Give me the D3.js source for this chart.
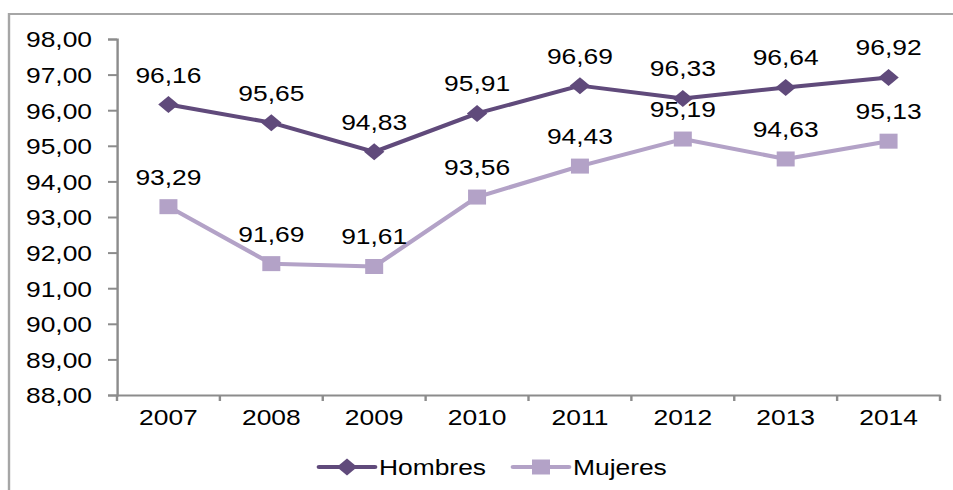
<!DOCTYPE html>
<html>
<head>
<meta charset="utf-8">
<script src="https://cdn.jsdelivr.net/npm/d3@7"></script>
<style>
  html, body { margin: 0; padding: 0; background: #fff; }
  svg { display: block; }
  text { font-family: "Liberation Sans", Arial, sans-serif; fill: #000; }
</style>
</head>
<body>
<div id="chart"></div>
<script>
// data
const years = ["2007", "2008", "2009", "2010", "2011", "2012", "2013", "2014"];
const hombres = [96.16, 95.65, 94.83, 95.91, 96.69, 96.33, 96.64, 96.92];
const mujeres = [93.29, 91.69, 91.61, 93.56, 94.43, 95.19, 94.63, 95.13];
const yTicks = [88, 89, 90, 91, 92, 93, 94, 95, 96, 97, 98];
const seriesNames = ["Hombres", "Mujeres"];

const colDark = "#604a7b", colLight = "#b3a2c7", axisCol = "#8c8c8c";
const fontSize = 22;

// the original picture is stretched sideways, so draw in a narrower space and stretch it
const sx = 1.2;
const W = 953, H = 490, IW = W / sx;
const px = v => v / sx;   // screen x -> inner x

const fmt = d3.formatLocale({ decimal: ",", thousands: ".", grouping: [3], currency: ["", ""] }).format(".2f");

const svg = d3.select("#chart").append("svg")
  .attr("width", W).attr("height", H)
  .attr("viewBox", "0 0 " + IW + " " + H)
  .attr("preserveAspectRatio", "none");

// outer frame (left and top edges visible)
svg.append("path")
  .attr("d", "M" + px(9) + "," + H + "V14H" + IW)
  .attr("fill", "none").attr("stroke", "#a6a6a6").attr("stroke-width", 2);

const plotLeft = px(117), plotRight = px(940), plotTop = 39, plotBottom = 395;

const x = d3.scaleBand().domain(years).range([plotLeft, plotRight]);
const y = d3.scaleLinear().domain([88, 98]).range([plotBottom, plotTop]);
const cx = d => x(d) + x.bandwidth() / 2;

// y axis
const yAxis = svg.append("g")
  .attr("transform", "translate(" + plotLeft + ",0)")
  .call(d3.axisLeft(y).tickValues(yTicks).tickFormat(fmt).tickSize(px(9)).tickPadding(px(16)));
yAxis.selectAll("text").attr("font-size", fontSize).attr("dy", "0.36em");

// x axis
const xAxis = svg.append("g")
  .attr("transform", "translate(0," + plotBottom + ")")
  .call(d3.axisBottom(x).tickSize(0).tickPadding(22));
xAxis.selectAll("text").attr("font-size", fontSize).attr("dy", "0.36em");
// ticks between categories
xAxis.selectAll(".sep")
  .data(years.concat(["end"]))
  .enter().append("line")
  .attr("class", "sep")
  .attr("x1", (d, i) => plotLeft + i * x.bandwidth())
  .attr("x2", (d, i) => plotLeft + i * x.bandwidth())
  .attr("y1", 0).attr("y2", 6)
  .attr("stroke", axisCol).attr("stroke-width", 2);

svg.selectAll(".domain").attr("stroke", axisCol).attr("stroke-width", 2);
svg.selectAll(".tick line").attr("stroke", axisCol).attr("stroke-width", 2);

const line = d3.line()
  .x((d, i) => cx(years[i]))
  .y(d => y(d));

const diamond = s => "M0," + (-s / 2) + "L" + (s / 2) + ",0L0," + (s / 2) + "L" + (-s / 2) + ",0Z";
const square = s => "M" + (-s / 2) + "," + (-s / 2) + "h" + s + "v" + s + "h" + (-s) + "Z";

function drawSeries(vals, color, shape) {
  const g = svg.append("g");
  g.append("path")
    .attr("d", line(vals))
    .attr("fill", "none").attr("stroke", color).attr("stroke-width", 4)
    .attr("stroke-linejoin", "round");
  g.selectAll("path.m")
    .data(vals).enter().append("path")
    .attr("class", "m")
    .attr("transform", (d, i) => "translate(" + cx(years[i]) + "," + y(d) + ")")
    .attr("d", shape)
    .attr("fill", color);
  g.selectAll("text")
    .data(vals).enter().append("text")
    .attr("x", (d, i) => cx(years[i]))
    .attr("y", d => y(d) - 22)
    .attr("text-anchor", "middle")
    .attr("font-size", fontSize)
    .text(d => fmt(d));
}

drawSeries(mujeres, colLight, square(15));
drawSeries(hombres, colDark, diamond(17));

// legend
const legend = [
  { name: seriesNames[0], color: colDark, shape: diamond(17), x0: 319 },
  { name: seriesNames[1], color: colLight, shape: square(15), x0: 513 }
];
const lg = svg.selectAll(".leg").data(legend).enter().append("g").attr("class", "leg");
lg.append("line")
  .attr("x1", d => px(d.x0)).attr("x2", d => px(d.x0 + 56))
  .attr("y1", 467).attr("y2", 467)
  .attr("stroke", d => d.color).attr("stroke-width", 4).attr("stroke-linecap", "round");
lg.append("path")
  .attr("transform", d => "translate(" + px(d.x0 + 28) + ",467)")
  .attr("d", d => d.shape)
  .attr("fill", d => d.color);
lg.append("text")
  .attr("x", d => px(d.x0 + 60)).attr("y", 467).attr("dy", "0.36em")
  .attr("font-size", fontSize)
  .text(d => d.name);
</script>
</body>
</html>
